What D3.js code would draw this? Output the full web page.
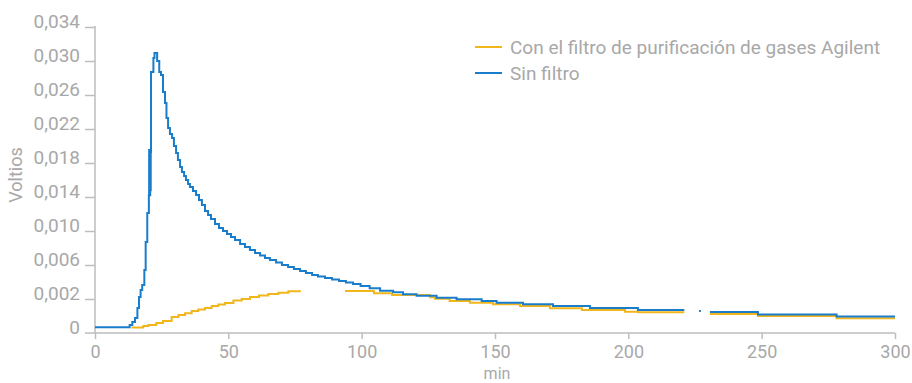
<!DOCTYPE html>
<html><head><meta charset="utf-8">
<script src="https://cdn.jsdelivr.net/npm/d3@7"></script>
<style>
body{margin:0;background:#fff;}
svg{display:block;font-family:Roboto, "Noto Sans", sans-serif;}
</style></head>
<body><svg id="c" width="912" height="383"></svg>
<script>
// ---- data ----
const seriesNames = ["Con el filtro de purificación de gases Agilent", "Sin filtro"];
const seriesColors = ["#f2b61d", "#1a7dcb"];
// Sin filtro (step series); null = gap
const blueTime = [0,12.4,13,14,15,15.9,16.5,17.1,17.7,18.5,19,19.6,20.2,20.3,20.4,20.5,20.6,20.7,20.8,20.9,21,21.9,22.3,23.3,24.1,24.75,
  25.5,26.25,26.8,27.4,28.1,28.9,29.6,30.4,31.1,31.9,32.6,33.4,34.1,34.9,35.6,36.75,37.9,39,40.1,41.25,42.4,43.5,45,46.5,48,49.5,51,52.5,54.4,56.25,58.1,60,61.9,63.75,65.6,67.9,70.1,72.4,74.6,76.9,79.1,81.4,83.6,86.25,88.9,91.5,94.1,96.75,
  99.6,103,106.9,111.8,115.5,120.6,128.1,135.6,145,150.6,160.5,171.75,185.6,203.6,221,221.1,226.5,227.2,227.3,230.6,248.6,278.1,300];
const blueVolt = [-0.00133,-0.00133,-0.00106,-0.0007,-0.00024,0.00094,0.00224,0.00306,0.00365,0.00541,0.00871,0.01212,0.01424,0.01953,0.0145,0.0195,0.0142,0.0195,0.0148,0.0193,0.02871,0.03035,0.03094,0.0300,0.02871,0.02835,
  0.02635,0.02506,0.02329,0.02212,0.02141,0.02094,0.0200,0.01918,0.01835,0.01753,0.01694,0.01647,0.0160,0.01553,0.01518,0.01471,0.01424,0.01365,0.01306,0.01235,0.01188,0.01141,0.01082,0.01035,0.0100,0.00965,0.00929,0.00894,0.00847,0.00812,0.00776,0.00741,0.00712,0.00682,0.00659,0.00629,0.0060,0.00576,0.00553,0.00529,0.00506,0.00482,0.00465,0.00447,0.00429,0.00412,0.00394,0.00376,
  0.00353,0.00326,0.00298,0.00279,0.00255,0.00239,0.00215,0.00196,0.00176,0.00156,0.00138,0.00118,0.00094,0.0007,0.0007,null,0.0006,0.0006,null,0.00047,0.00018,-0.00006,-0.00006];
// Con filtro
const orangeTime = [13.7,18.1,20,23,25.5,28.75,31.3,33.75,36.25,38.75,41.25,43.75,46.25,48.75,51.9,55,58.1,61.5,65,68.75,72.5,77.2,77.3,93.75,104.6,111.4,125.6,127.5,133,140.6,149.25,159.4,170.6,182.6,198.75,203.6,221,221.1,230.6,248.6,278.1,300];
const orangeVolt = [-0.00135,-0.00118,-0.00106,-0.00082,-0.00059,-0.00012,0.00012,0.00032,0.00059,0.00076,0.00094,0.00118,0.00135,0.00153,0.00182,0.002,0.00224,0.00241,0.00259,0.00274,0.00291,0.00291,null,0.00294,0.00267,0.00247,0.0022,0.00204,0.00176,0.00156,0.00138,0.00118,0.00091,0.00071,0.00051,0.00044,0.00044,null,0.00024,0.0,-0.00027,-0.00027];
const yTickValues = [-0.002,0.002,0.006,0.010,0.014,0.018,0.022,0.026,0.030,0.034];
const yTickLabels = ["0","0,002","0,006","0,010","0,014","0,018","0,022","0,026","0,030","0,034"];
const xTickValues = [0,50,100,150,200,250,300];
const xLabel = "min", yLabel = "Voltios";

// ---- chart ----
const svg = d3.select("#c");
const x = d3.scaleLinear().domain([0,300]).range([95,895]);
const y = d3.scaleLinear().domain([-0.002,0.034]).range([333,27]);
const axisCol = "#bdbdbd", textCol = "#a8a8a8";

// y axis
const ya = svg.append("g").attr("transform","translate(95,0)")
  .call(d3.axisLeft(y).tickValues(yTickValues).tickSize(10).tickPadding(5)
    .tickFormat((d,i)=>yTickLabels[i]));
ya.select(".domain").attr("d","M0,26V333");
// x axis
const xa = svg.append("g").attr("transform","translate(0,333)")
  .call(d3.axisBottom(x).tickValues(xTickValues).tickSize(6).tickPadding(6).tickFormat(d3.format("d")));
xa.select(".domain").attr("d","M85,0H895");
[ya,xa].forEach(a=>{
  a.selectAll(".domain,.tick line").attr("stroke",axisCol).attr("stroke-width",1.5);
  a.selectAll("text").attr("fill",textCol).attr("font-family","Roboto");
});
ya.selectAll("text").attr("font-size",19).attr("dy","0.05em");
xa.selectAll("text").attr("font-size",18);
ya.selectAll(".tick").filter(d=>d===-0.002).select("line").remove();

svg.append("text").attr("x",497).attr("y",379).attr("text-anchor","middle")
  .attr("fill",textCol).attr("font-size",16).text(xLabel);
svg.append("text").attr("transform","translate(22,175) rotate(-90)").attr("text-anchor","middle")
  .attr("fill",textCol).attr("font-size",18).text(yLabel);

const line = d3.line().defined(d=>d[1]!==null).x(d=>x(d[0])).y(d=>y(d[1])).curve(d3.curveStepAfter);
const oData = orangeTime.map((t,i)=>[t,orangeVolt[i]]);
const bData = blueTime.map((t,i)=>[t,blueVolt[i]]);
svg.append("path").datum(oData).attr("d",line).attr("fill","none").attr("stroke",seriesColors[0]).attr("stroke-width",2);
svg.append("path").datum(bData).attr("d",line).attr("fill","none").attr("stroke",seriesColors[1]).attr("stroke-width",2);

// legend
const lg = svg.append("g");
seriesNames.forEach((n,i)=>{
  const yy = 47 + i*26;
  lg.append("line").attr("x1",475).attr("x2",502).attr("y1",yy).attr("y2",yy)
    .attr("stroke",seriesColors[i]).attr("stroke-width",2);
  lg.append("text").attr("x",510).attr("y",yy).attr("dy","0.35em")
    .attr("fill",textCol).attr("font-size",19).text(n);
});
</script></body></html>
